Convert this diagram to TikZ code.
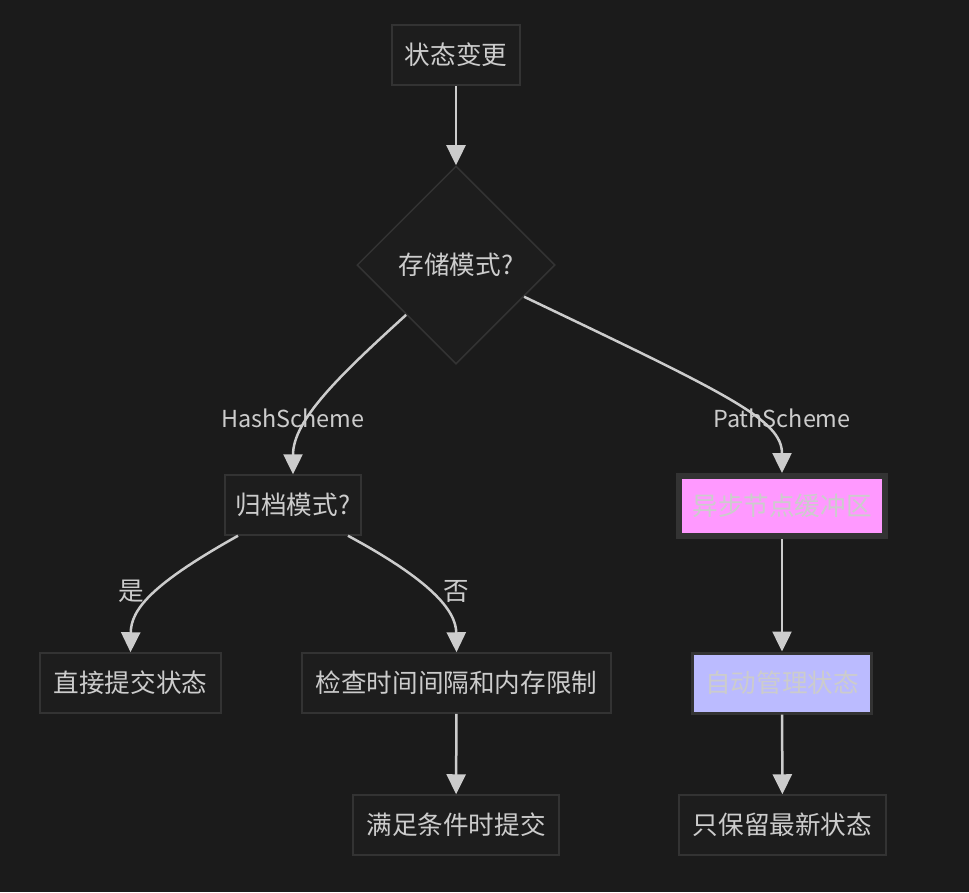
\documentclass[tikz,border=0pt]{standalone}
\usepackage{fontspec}
\setmainfont{Noto Sans CJK SC}
\usetikzlibrary{shapes.geometric,arrows.meta}
\definecolor{bgDark}{HTML}{1B1B1B}
\definecolor{nodeFill}{HTML}{1D1D1D}
\definecolor{nodeLine}{HTML}{333333}
\definecolor{lineGrey}{HTML}{CCCCCC}
\definecolor{textGrey}{HTML}{CCCCCC}
\definecolor{bufPink}{HTML}{FF99FF}
\definecolor{autoBlue}{HTML}{BBBBFF}

\begin{document}
\begin{tikzpicture}[x=1pt,y=-1pt,
    box/.style={draw=nodeLine, line width=1.5pt, fill=nodeFill, text=textGrey,
      minimum height=60pt, inner sep=0pt, font=\fontsize{25.6}{30}\selectfont},
    choice/.style={box, shape=diamond, minimum width=198pt, minimum height=198pt},
    flow/.style={draw=lineGrey, line width=2.5pt, -{Triangle[length=20pt,width=19pt]}},
    tag/.style={text=textGrey, inner sep=0pt, font=\fontsize{25.6}{30}\selectfont},
    schemeTag/.style={tag, font=\fontsize{23.4}{28}\selectfont}]
  \fill[bgDark] (0,0) rectangle (969,892);
  % nodes
  \node[box, minimum width=128pt] (change) at (456,55) {状态变更};
  \node[choice] (mode) at (456,265) {存储模式?};
  \node[box, minimum width=136pt] (archive) at (293,505) {归档模式?};
  \node[box, minimum width=206pt, fill=bufPink, line width=6pt] (buffer) at (782,506) {异步节点缓冲区};
  \node[box, minimum width=179pt, fill=autoBlue, line width=3pt] (auto) at (782,683) {自动管理状态};
  \node[box, minimum width=181pt] (direct) at (130.5,683) {直接提交状态};
  \node[box, minimum width=309pt] (check) at (456.5,683) {检查时间间隔和内存限制};
  \node[box, minimum width=206pt] (commit) at (456,825) {满足条件时提交};
  \node[box, minimum width=207pt] (latest) at (782.5,825) {只保留最新状态};
  % connectors
  \draw[flow] (change) -- (mode);
  \draw[flow] (mode.south west) .. controls (340,375) and (293,420) .. (archive.north);
  \draw[flow] (mode.-25) .. controls (730,395) and (782,420) .. (buffer.north);
  \draw[flow] ([xshift=-55pt]archive.south) .. controls (150,585) and (131,610) .. (direct.north);
  \draw[flow] ([xshift=55pt]archive.south) .. controls (430,580) and (456,610) .. (check.north);
  \draw[flow] (check) -- (commit);
  \draw[flow] (buffer) -- (auto);
  \draw[flow] (auto) -- (latest);
  % edge labels
  \node[schemeTag] (hashTag) at (293,418) {HashScheme};
  \node[schemeTag] (pathTag) at (782,418) {PathScheme};
  \node[tag] (yesTag) at (131,591) {是};
  \node[tag] (noTag) at (456,591) {否};
\end{tikzpicture}
\end{document}
